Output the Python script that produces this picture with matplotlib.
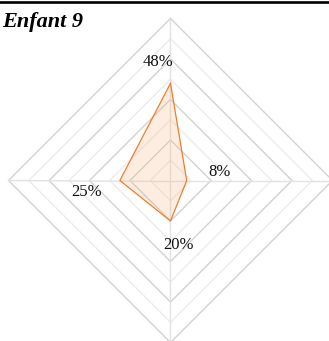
import numpy as np
import matplotlib.pyplot as plt
from matplotlib.lines import Line2D

# Données du radar (en %) : haut, droite, bas, gauche
axes_noms = ["A", "B", "C", "D"]
valeurs = [48, 8, 20, 25]
etiquettes = ["48%", "8%", "20%", "25%"]
titre = "Enfant 9"
anneaux = [10, 20, 30, 40, 50, 60, 70, 80]

# angles : haut, droite, bas, gauche
angles = np.deg2rad([90, 0, -90, 180])

W, H = 329, 341
px = 2.025          # pixels par point de pourcentage
cx, cy = 170.5, 180.5

fig = plt.figure(figsize=(W / 100, H / 100), dpi=100)
ax = fig.add_axes([0, 0, 1, 1])
ax.set_xlim(-cx / px, (W - cx) / px)
ax.set_ylim(-(H - cy) / px, cy / px)
ax.axis("off")

# grille en losange
for r in anneaux:
    xs = r * np.cos(np.append(angles, angles[0]))
    ys = r * np.sin(np.append(angles, angles[0]))
    couleur = "#d2d2d2" if r % 20 == 0 else "#ececec"
    ax.plot(xs, ys, color=couleur, lw=1.0, zorder=1)

rmax = anneaux[-1]
for a in angles:
    ax.plot([0, rmax * np.cos(a)], [0, rmax * np.sin(a)], color="#e2e2e2", lw=1.0, zorder=1)

# polygone des valeurs
v = np.array(valeurs, dtype=float)
xs = v * np.cos(angles)
ys = v * np.sin(angles)
ax.fill(xs, ys, color="#f6b07a", alpha=0.22, lw=0, zorder=2)
ax.plot(np.append(xs, xs[0]), np.append(ys, ys[0]), color="#f07d2b", lw=0.9, zorder=3)

# étiquettes de valeur (décalages en points)
decalages = [(-9, 15), (24, 6), (6, -17), (-24, -8)]
for x, y, txt, d in zip(xs, ys, etiquettes, decalages):
    ax.annotate(txt, (x, y), xytext=d, textcoords="offset points",
                ha="center", va="center", fontsize=12,
                family="Liberation Serif", color="#111111", zorder=4)

# titre et filet supérieur
fig.text(2 / W, 1 - 27 / H, titre, fontsize=16, fontweight="bold", fontstyle="italic",
         family="Liberation Serif", ha="left", va="baseline")
fig.add_artist(Line2D([0, 1], [1 - 2.2 / H, 1 - 2.2 / H], color="black", lw=1.9,
                      transform=fig.transFigure))

fig.savefig("out.png", dpi=100)
